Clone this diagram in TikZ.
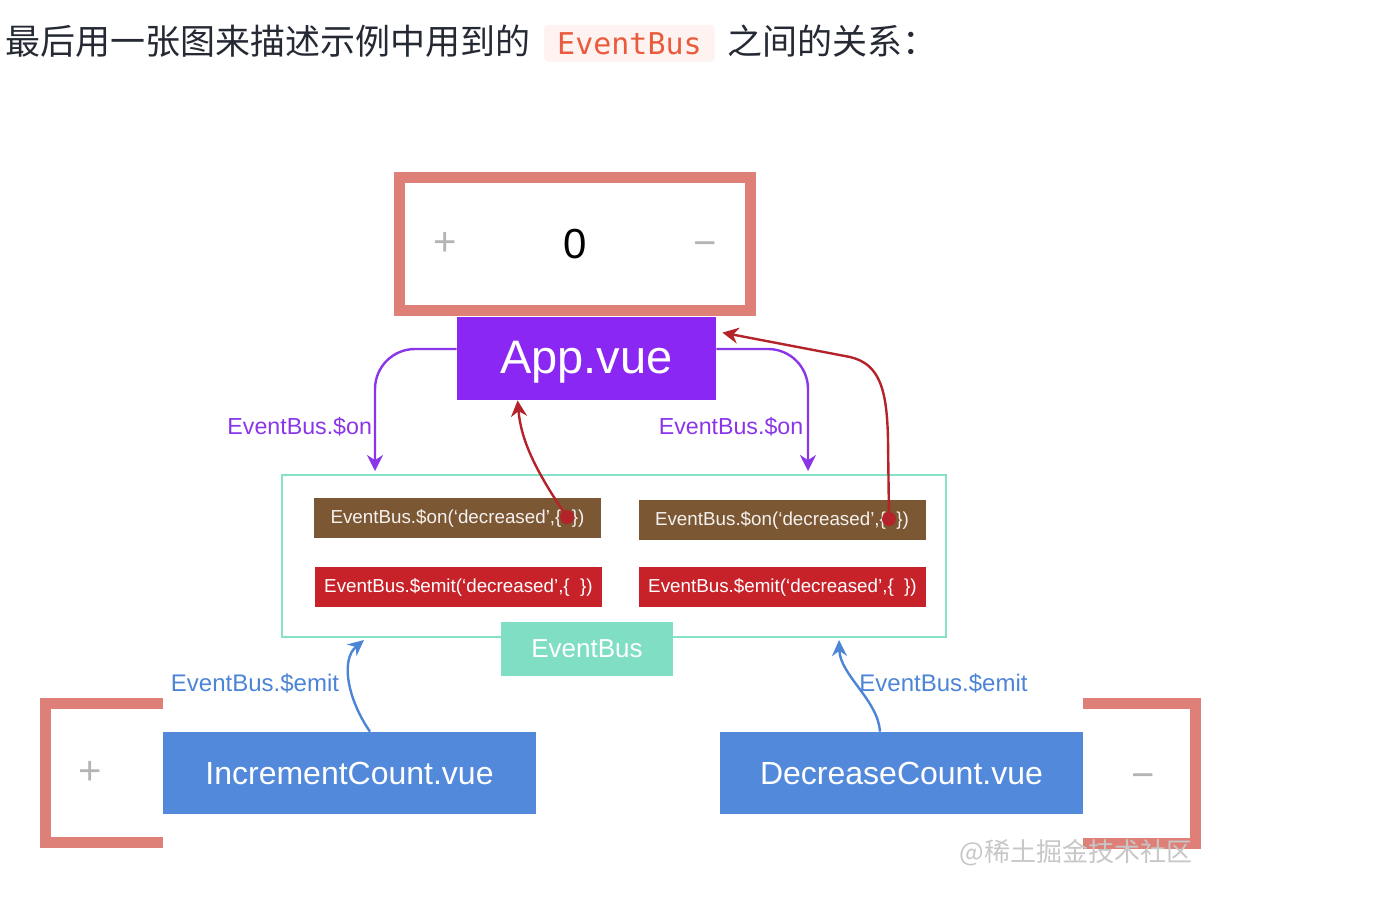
\documentclass[tikz,border=0pt]{standalone}
\usepackage{fontspec}
\setmainfont{Liberation Sans}
\setmonofont{DejaVu Sans Mono}
\newfontfamily\cjk{Noto Sans CJK SC}
\usepackage{tikz}
\usetikzlibrary{arrows.meta,positioning}

\definecolor{headtext}{HTML}{252933}
\definecolor{chipfill}{HTML}{FFF3F2}
\definecolor{chiptext}{HTML}{EA5A3C}
\definecolor{salmon}{HTML}{DE8078}
\definecolor{apppurple}{HTML}{8A27F2}
\definecolor{onpurple}{HTML}{8A36E8}
\definecolor{emitred}{HTML}{B5232A}
\definecolor{brown}{HTML}{7C5733}
\definecolor{boxred}{HTML}{C72229}
\definecolor{busteal}{HTML}{86E2C9}
\definecolor{busfill}{HTML}{7FDEC3}
\definecolor{vueblue}{HTML}{5389DB}
\definecolor{emitblue}{HTML}{4C84D6}
\definecolor{signgrey}{HTML}{B4B4B4}

\begin{document}
\begin{tikzpicture}[x=0.5pt,y=-0.5pt,
		heading/.style={inner sep=0pt,text=headtext,font=\cjk\fontsize{17.5}{20}\selectfont},
		chip/.style={fill=chipfill,text=chiptext,inner xsep=6.5pt,inner ysep=0pt,minimum height=18.5pt,rounded corners=2pt,font=\ttfamily\fontsize{15}{18}\selectfont},
		vuebox/.style={fill=#1,text=white,inner sep=0pt},
		codebox/.style={fill=#1,text=white,inner sep=0pt,minimum width=143.5pt,minimum height=20pt,font=\fontsize{9.4}{11}\selectfont},
		sign/.style={text=signgrey,font=\fontsize{20}{22}\selectfont},
		onarrow/.style={draw=onpurple,line width=1.2pt,-{Stealth[length=8pt,width=8pt]}},
		redarrow/.style={draw=emitred,line width=1.2pt,-{Stealth[length=8pt,width=8pt]}},
		emitarrow/.style={draw=emitblue,line width=1.2pt,-{Stealth[length=8pt,width=7.5pt]}},
		dot/.style={circle,fill=emitred,inner sep=0pt,minimum size=7pt}]
		\useasboundingbox (0,0) rectangle (1400,922);
		\node[heading,anchor=base west] (head) at (5,54) {最后用一张图来描述示例中用到的};
		\node[chip,base right=6.5pt of head] (chip) {EventBus};
		\node[heading,base right=6pt of chip] (tail) {之间的关系：};

		\node[draw=salmon,line width=5.5pt,minimum width=175.5pt,minimum height=66.5pt] (counter) at (575,244) {};
		\node[sign] (plus) at ([xshift=-65pt]counter.center) {+};
		\node[font=\fontsize{21}{24}\selectfont] (count) at (counter.center) {0};
		\node[sign] (minus) at ([xshift=65pt,yshift=-2.5pt]counter.center) {−};
		\node[vuebox=apppurple,minimum width=129.5pt,minimum height=41.5pt,text depth=1.5pt,font=\fontsize{23.5}{26}\selectfont] (app) at (586.5,358.5) {App.vue};

		\node[draw=busteal,line width=1pt,minimum width=332pt,minimum height=81pt] (bus) at (614,556) {};
		\node[codebox=brown,text=white!92!brown] (onL) at (457.5,518) {EventBus.\$on(`decreased',\{\ \ \})};
		\node[codebox=brown,text=white!92!brown] (onR) at (782,520) {EventBus.\$on(`decreased',\{\ \ \})};
		\node[codebox=boxred] (emitL) at (458.5,587) {EventBus.\$emit(`decreased',\{\ \ \})};
		\node[codebox=boxred] (emitR) at (782.5,587) {EventBus.\$emit(`decreased',\{\ \ \})};
		\node[vuebox=busfill,minimum width=86pt,minimum height=27pt,font=\fontsize{13}{15}\selectfont] (buslabel) at (587,649) {EventBus};

		\node[vuebox=vueblue,minimum width=186.5pt,minimum height=41pt,font=\fontsize{16}{18}\selectfont] (incr) at (349.5,773) {IncrementCount.vue};
		\node[vuebox=vueblue,minimum width=181.5pt,minimum height=41pt,font=\fontsize{16}{18}\selectfont] (decr) at (901.5,773) {DecreaseCount.vue};
		\draw[salmon,line width=5.5pt] (163,703.5) -- (45,703.5) -- (45,842.5) -- (163,842.5);
		\draw[salmon,line width=5.5pt] (1083,703.5) -- (1195.5,703.5) -- (1195.5,843) -- (1083,843);
		\node[sign] (incplus) at (90,773) {+};
		\node[sign] (decminus) at (1143,781) {−};

		\coordinate (inL) at (375,471);
		\coordinate (inR) at (808,471);
		\draw[onarrow,rounded corners=20pt] ([yshift=4.75pt]app.west) -| (inL);
		\draw[onarrow,rounded corners=20pt] ([yshift=4.75pt]app.east) -| (inR);
		\node[text=onpurple,anchor=east,font=\fontsize{11.6}{13}\selectfont] (onlabelL) at (379,427) {EventBus.\$on};
		\node[text=onpurple,font=\fontsize{11.6}{13}\selectfont] (onlabelR) at (731,427) {EventBus.\$on};

		\node[dot] (dotL) at (567,517) {};
		\node[dot] (dotR) at (889,519) {};
		\draw[redarrow] (dotL.center) .. controls (535,470) and (521,440) .. ([xshift=30.5pt]app.south west);
		\draw[redarrow] (dotR.center) -- (888,440) .. controls (887,390) and (880,364) .. (850,357) -- ([xshift=3pt,yshift=-8pt]app.north east);

		\coordinate (busL) at (364,640);
		\coordinate (busR) at (839,640);
		\draw[emitarrow] ([xshift=10.25pt]incr.north) .. controls (348,700) and (340,660) .. (busL);
		\draw[emitarrow] ([xshift=-10.75pt]decr.north) .. controls (878,700) and (840,675) .. (busR);
		\node[text=emitblue,font=\fontsize{12}{14}\selectfont] (emitlabelL) at (255,683) {EventBus.\$emit};
		\node[text=emitblue,font=\fontsize{12}{14}\selectfont] (emitlabelR) at (943.5,683) {EventBus.\$emit};

		\node[text=black!22,font=\cjk\fontsize{13}{15}\selectfont] (mark) at (1076,853) {@稀土掘金技术社区};
	\end{tikzpicture}
\end{document}
